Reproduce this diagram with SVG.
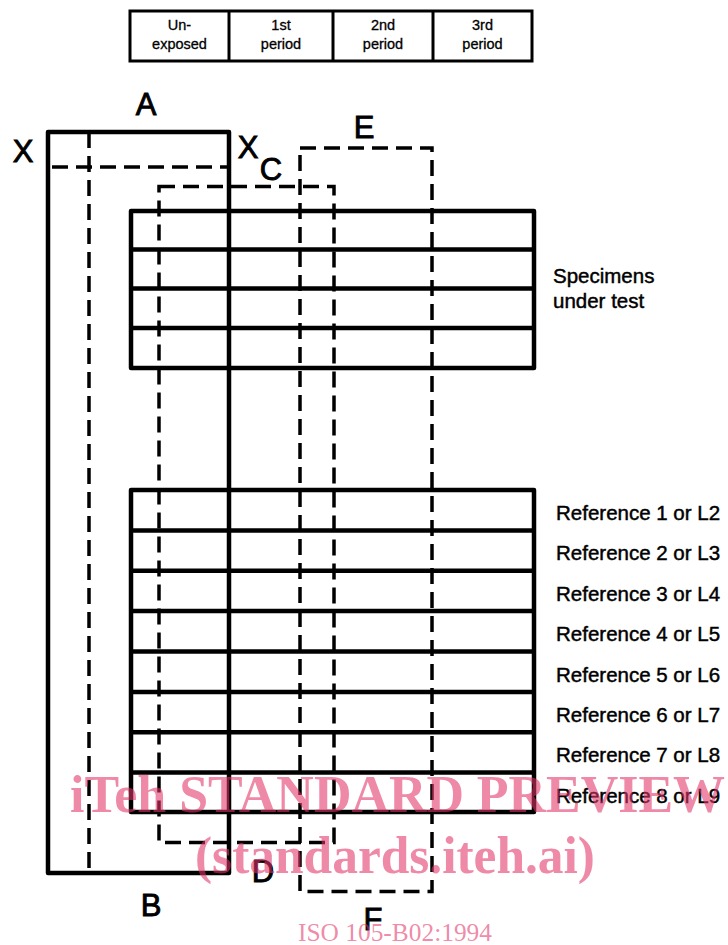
<svg xmlns="http://www.w3.org/2000/svg" width="728" height="945" viewBox="0 0 728 945">
  <style>
    .solid { fill: none; stroke: #000; stroke-width: 4.5; stroke-linejoin: round; }
    .thin { fill: none; stroke: #000; stroke-width: 3; }
    .dash { fill: none; stroke: #000; stroke-width: 3.5; stroke-dasharray: 16 8; }
    .hdr { font-family: "Liberation Sans", Arial, sans-serif; font-size: 14.5px; text-anchor: middle; fill: #000; stroke: #000; stroke-width: 0.3; }
    .lab { font-family: "Liberation Sans", Arial, sans-serif; font-size: 20.5px; fill: #000; stroke: #000; stroke-width: 0.45; }
    .big { font-family: "Liberation Sans", Arial, sans-serif; font-size: 31px; text-anchor: middle; fill: #000; stroke: #000; stroke-width: 0.9; }
    .wm { font-family: "Liberation Serif", "Times New Roman", serif; fill: rgb(226,52,104); fill-opacity: 0.58; }
  </style>

  <!-- exposure period header -->
  <g id="header">
    <rect class="thin" x="130" y="11" width="402" height="50"/>
    <line class="thin" x1="229" y1="11" x2="229" y2="61"/>
    <line class="thin" x1="333" y1="11" x2="333" y2="61"/>
    <line class="thin" x1="433" y1="11" x2="433" y2="61"/>
    <text class="hdr" x="179.5" y="30">Un-</text>
    <text class="hdr" x="179.5" y="49">exposed</text>
    <text class="hdr" x="281" y="30">1st</text>
    <text class="hdr" x="281" y="49">period</text>
    <text class="hdr" x="383" y="30">2nd</text>
    <text class="hdr" x="383" y="49">period</text>
    <text class="hdr" x="482.5" y="30">3rd</text>
    <text class="hdr" x="482.5" y="49">period</text>
  </g>

  <!-- specimen holder cards -->
  <g id="specimens">
    <rect class="solid" x="131" y="211" width="403" height="157"/>
    <line class="solid" x1="131" y1="249.5" x2="534" y2="249.5"/>
    <line class="solid" x1="131" y1="288.5" x2="534" y2="288.5"/>
    <line class="solid" x1="131" y1="328" x2="534" y2="328"/>
  </g>

  <g id="references">
    <rect class="solid" x="131" y="490" width="403" height="322"/>
    <line class="solid" x1="131" y1="530.4" x2="534" y2="530.4"/>
    <line class="solid" x1="131" y1="570.8" x2="534" y2="570.8"/>
    <line class="solid" x1="131" y1="611.1" x2="534" y2="611.1"/>
    <line class="solid" x1="131" y1="651.5" x2="534" y2="651.5"/>
    <line class="solid" x1="131" y1="691.9" x2="534" y2="691.9"/>
    <line class="solid" x1="131" y1="732.2" x2="534" y2="732.2"/>
    <line class="solid" x1="131" y1="772.6" x2="534" y2="772.6"/>
  </g>

  <!-- covers -->
  <g id="cover-AB">
    <rect class="solid" x="48" y="132" width="181" height="741"/>
  </g>
  <g id="cover-XX">
    <line class="dash" x1="48" y1="167" x2="229" y2="167" stroke-dashoffset="-4"/>
    <line class="dash" x1="89" y1="132" x2="89" y2="873"/>
  </g>
  <g id="cover-CD">
    <rect class="dash" x="159" y="186.5" width="175" height="656"/>
  </g>
  <g id="cover-EF">
    <rect class="dash" x="300" y="148" width="132" height="743.5"/>
  </g>

  <!-- cover letters -->
  <g id="letters">
    <text class="big" x="146" y="115">A</text>
    <text class="big" x="23" y="162">X</text>
    <text class="big" x="248" y="158">X</text>
    <text class="big" x="271" y="180">C</text>
    <text class="big" x="364" y="138">E</text>
    <text class="big" x="151" y="916">B</text>
    <text class="big" x="263" y="882">D</text>
    <text class="big" x="373" y="930">F</text>
  </g>

  <!-- row labels -->
  <g id="labels">
    <text class="lab" x="553" y="283">Specimens</text>
    <text class="lab" x="553" y="308">under test</text>
    <text class="lab" x="556" y="520">Reference 1 or L2</text>
    <text class="lab" x="556" y="560.4">Reference 2 or L3</text>
    <text class="lab" x="556" y="600.8">Reference 3 or L4</text>
    <text class="lab" x="556" y="641.2">Reference 4 or L5</text>
    <text class="lab" x="556" y="681.6">Reference 5 or L6</text>
    <text class="lab" x="556" y="722">Reference 6 or L7</text>
    <text class="lab" x="556" y="762.4">Reference 7 or L8</text>
    <text class="lab" x="556" y="802.8">Reference 8 or L9</text>
  </g>

  <!-- publisher watermark -->
  <g id="watermark">
    <text class="wm" x="70" y="812" font-size="52" font-weight="bold" textLength="655" lengthAdjust="spacingAndGlyphs">iTeh STANDARD PREVIEW</text>
    <text class="wm" x="195" y="873" font-size="52" font-weight="bold" textLength="400" lengthAdjust="spacingAndGlyphs">(standards.iteh.ai)</text>
    <text class="wm" x="298" y="941" font-size="25" textLength="194" lengthAdjust="spacingAndGlyphs">ISO 105-B02:1994</text>
  </g>
</svg>
